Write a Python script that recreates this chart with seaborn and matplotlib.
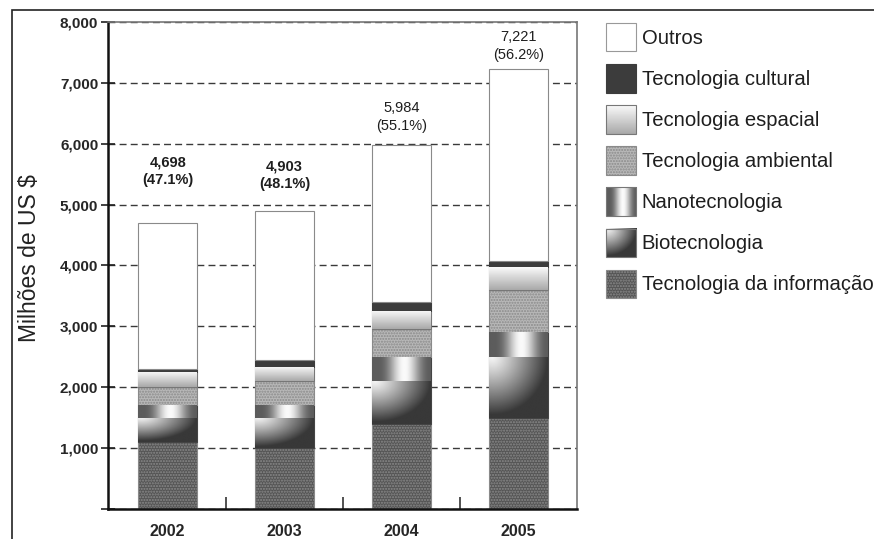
import numpy as np
import matplotlib
matplotlib.use("Agg")
import matplotlib.pyplot as plt
import seaborn as sns
from matplotlib.patches import Patch, Rectangle
from matplotlib.legend_handler import HandlerBase
from matplotlib.image import BboxImage
from matplotlib.transforms import Bbox, TransformedBbox
from matplotlib.colors import Normalize

# data (millions of US$)
years = ["2002", "2003", "2004", "2005"]
totals = [4698, 4903, 5984, 7221]
shares = [47.1, 48.1, 55.1, 56.2]

tec_informacao = [1100, 1000, 1400, 1500]
biotecnologia = [400, 500, 700, 1000]
nanotecnologia = [200, 200, 400, 400]
tec_ambiental = [300, 400, 450, 700]
tec_espacial = [250, 230, 300, 370]
tec_cultural = [50, 120, 150, 110]
outros = [2398, 2453, 2584, 3141]

labels = ["Tecnologia da informação", "Biotecnologia", "Nanotecnologia",
          "Tecnologia ambiental", "Tecnologia espacial", "Tecnologia cultural", "Outros"]
series = [tec_informacao, biotecnologia, nanotecnologia, tec_ambiental,
          tec_espacial, tec_cultural, outros]

sns.set_theme(style="white")
plt.rcParams["font.family"] = ["Liberation Sans", "DejaVu Sans"]
plt.rcParams["hatch.linewidth"] = 1.0


# gradient textures
def grad_radial(ny=80, nx=80):
    u, v = np.meshgrid(np.linspace(0, 1, nx), np.linspace(0, 1, ny))
    d = np.sqrt((u - 0.05) ** 2 + (v - 0.0) ** 2) / 0.95
    return 0.96 - 0.74 * np.clip(d, 0, 1) ** 1.1


def grad_cylinder(ny=10, nx=80):
    u, v = np.meshgrid(np.linspace(0, 1, nx), np.linspace(0, 1, ny))
    return 0.36 + 0.62 * np.cos(np.pi * (u - 0.55)) ** 3


def grad_vertical(ny=80, nx=10):
    u, v = np.meshgrid(np.linspace(0, 1, nx), np.linspace(0, 1, ny))
    return 0.98 - 0.32 * v


styles = {
    "Tecnologia da informação": dict(color="#555555", edgecolor="#8a8a8a", hatch="......"),
    "Biotecnologia": dict(color="#555555", edgecolor="#444444", grad=grad_radial()),
    "Nanotecnologia": dict(color="#888888", edgecolor="#444444", grad=grad_cylinder()),
    "Tecnologia ambiental": dict(color="#b8b8b8", edgecolor="#8a8a8a", hatch="......"),
    "Tecnologia espacial": dict(color="#dddddd", edgecolor="#777777", grad=grad_vertical()),
    "Tecnologia cultural": dict(color="#3c3c3c", edgecolor="#3c3c3c"),
    "Outros": dict(color="#ffffff", edgecolor="#8a8a8a"),
}

fig = plt.figure(figsize=(8.74, 5.39), dpi=100)
ax = fig.add_axes([0.1236, 0.0557, 0.5366, 0.9035])

bottom = np.zeros(len(years))
for name, vals in zip(labels, series):
    st = styles[name]
    n0 = len(ax.patches)
    sns.barplot(x=years, y=vals, order=years, bottom=bottom, width=0.5,
                color=st["color"], saturation=1, edgecolor=st["edgecolor"],
                linewidth=0.8, hatch=st.get("hatch"), errorbar=None, ax=ax)
    if "grad" in st:
        for p in ax.patches[n0:]:
            x0, y0 = p.get_x(), p.get_y()
            im = ax.imshow(st["grad"], cmap="gray", norm=Normalize(0, 1),
                           extent=(x0, x0 + p.get_width(), y0, y0 + p.get_height()),
                           aspect="auto", interpolation="bilinear", zorder=1.5)
            im.set_clip_path(p)
    bottom = bottom + np.array(vals)

ax.set_xlim(-0.51, 3.5)
ax.set_ylim(0, 8000)
ax.set_aspect("auto")

# grid and axes
ax.set_axisbelow(True)
ax.yaxis.grid(True, linestyle=(0, (5, 3)), color="#3a3a3a", linewidth=1.0)
ax.xaxis.grid(False)
ax.set_yticks(range(0, 8001, 1000))
ax.set_yticklabels([""] + [f"{v:,}" for v in range(1000, 8001, 1000)])
ax.tick_params(axis="y", direction="inout", length=10, width=1.2, color="#222222",
               left=True, labelsize=11, pad=2)
for t in ax.get_yticklabels():
    t.set_fontweight("bold")
ax.tick_params(axis="x", length=0, labelsize=11.5, pad=11)
for t in ax.get_xticklabels():
    t.set_fontweight("bold")
ax.set_xticks([0.5, 1.5, 2.5], minor=True)
ax.tick_params(axis="x", which="minor", direction="in", length=9, width=1.2,
               color="#333333", bottom=True)
ax.set_xlabel("")
ax.set_ylabel("Milhões de US $", fontsize=16.5, color="#222222")
ax.yaxis.set_label_coords(-0.143, 0.515)

for side in ["left", "bottom"]:
    ax.spines[side].set_color("#111111")
    ax.spines[side].set_linewidth(1.8)
for side in ["top", "right"]:
    ax.spines[side].set_color("#777777")
    ax.spines[side].set_linewidth(1.2)

# total labels above the bars
label_pad = [26, 14, 8.5, 5.5]
label_weight = ["bold", "bold", "normal", "normal"]
for i, (tot, sh) in enumerate(zip(totals, shares)):
    ax.annotate(f"{tot:,}\n({sh}%)", xy=(i, tot), xytext=(0, label_pad[i]),
                textcoords="offset points", ha="center", va="bottom",
                fontsize=10.5, fontweight=label_weight[i], color="#1e1e1e",
                linespacing=1.35)


# legend
class GradHandler(HandlerBase):
    def __init__(self, arr):
        super().__init__()
        self.arr = arr

    def create_artists(self, legend, orig_handle, xdescent, ydescent, width, height, fontsize, trans):
        bb = TransformedBbox(Bbox.from_bounds(-xdescent, -ydescent, width, height), trans)
        img = BboxImage(bb, cmap="gray", norm=Normalize(0, 1), interpolation="bilinear")
        img.set_data(self.arr)
        rect = Rectangle((-xdescent, -ydescent), width, height, fill=False,
                         edgecolor="#777777", linewidth=0.8, transform=trans)
        return [img, rect]


handles, hmap = [], {}
for name in labels[::-1]:
    st = styles[name]
    h = Patch(facecolor=st["color"], edgecolor=st["edgecolor"] if name != "Outros" else "#999999",
              hatch=st.get("hatch"), linewidth=0.8, label=name)
    handles.append(h)
    if "grad" in st:
        hmap[h] = GradHandler(st["grad"])

fig.legend(handles=handles, labels=labels[::-1], handler_map=hmap, loc="upper left",
           bbox_to_anchor=(0.693, 0.957), frameon=False, fontsize=14.6,
           handlelength=1.48, handleheight=1.77, handletextpad=0.3,
           labelspacing=0.63, borderpad=0, borderaxespad=0, labelcolor="#1e1e1e")

# outer frame
fig.add_artist(Rectangle((0.0137, -0.05), 1.0, 1.0314, transform=fig.transFigure,
                         fill=False, edgecolor="#222222", linewidth=1.2))

fig.savefig("out.png", dpi=100)
